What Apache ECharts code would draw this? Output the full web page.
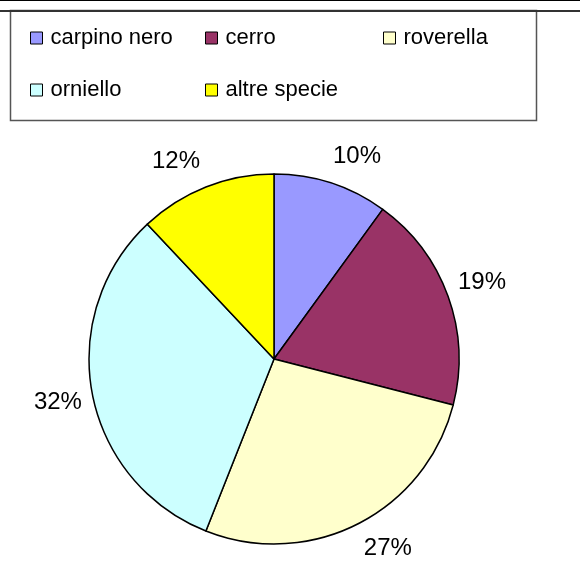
<!DOCTYPE html>
<html>
<head>
<meta charset="utf-8">
<script src="https://cdn.jsdelivr.net/npm/echarts@6/dist/echarts.min.js"></script>
<style>
    html, body { margin: 0; padding: 0; background: #fff; }
    #chart { width: 580px; height: 567px; }
</style>
</head>
<body>
<div id="chart"></div>
<script>
/**
 * ripartizione specie - grafico a torta
 */
var specie = ['carpino nero', 'cerro', 'roverella', 'orniello', 'altre specie'];
var quote = [10, 19, 27, 32, 12];
var etichette = ['10%', '19%', '27%', '32%', '12%'];

(function () {
    var colori = ['#9999ff', '#993366', '#ffffcc', '#ccffff', '#ffff00'];
    var font = '"Liberation Sans", Arial, sans-serif';

    // posizioni delle voci di legenda (due righe)
    var posLegenda = [[30, 27], [205, 27], [383, 27], [30, 79], [205, 79]];
    // piccoli spostamenti delle etichette, come nel grafico originale
    var spostamenti = [[15, 7], [1, -2], [14, -7], [0, 2], [-17, 7]];

    var legende = specie.map(function (nome, i) {
        return {
            data: [nome],
            left: posLegenda[i][0],
            top: posLegenda[i][1],
            padding: 0,
            icon: 'rect',
            itemWidth: 12,
            itemHeight: 12,
            itemStyle: { borderColor: '#000', borderWidth: 1 },
            textStyle: {
                fontFamily: font,
                fontSize: 22,
                color: '#000',
                padding: [0, 0, 0, 3]
            },
            selectedMode: false
        };
    });

    var dati = specie.map(function (nome, i) {
        return { name: nome, value: quote[i], itemStyle: { color: colori[i] } };
    });
    var datiEtichette = specie.map(function (nome, i) {
        return {
            name: nome,
            value: quote[i],
            label: { formatter: etichette[i], offset: spostamenti[i] }
        };
    });

    var chart = echarts.init(document.getElementById('chart'), null, { renderer: 'canvas' });
    chart.setOption({
        animation: false,
        legend: legende,
        graphic: [
            {
                type: 'line',
                shape: { x1: 0, y1: 0.5, x2: 580, y2: 0.5 },
                style: { stroke: '#000', lineWidth: 1 }
            },
            {
                type: 'rect',
                shape: { x: 10.5, y: 10.5, width: 526, height: 110 },
                style: { fill: 'none', stroke: '#555', lineWidth: 1.5 }
            },
            {
                type: 'line',
                shape: { x1: 0, y1: 11, x2: 580, y2: 11 },
                style: { stroke: '#333', lineWidth: 2 }
            }
        ],
        series: [
            {
                type: 'pie',
                center: [274, 359],
                radius: 185,
                startAngle: 90,
                clockwise: true,
                silent: true,
                label: { show: false },
                labelLine: { show: false },
                itemStyle: { borderColor: '#000', borderWidth: 1.5 },
                data: dati
            },
            {
                // serie trasparente usata solo per le etichette percentuali
                type: 'pie',
                center: [274, 359],
                radius: [196, 238],
                startAngle: 90,
                clockwise: true,
                silent: true,
                itemStyle: { color: 'rgba(0,0,0,0)' },
                label: {
                    show: true,
                    position: 'inside',
                    fontFamily: font,
                    fontSize: 24,
                    color: '#000'
                },
                labelLine: { show: false },
                data: datiEtichette
            }
        ]
    });
})();
</script>
</body>
</html>
